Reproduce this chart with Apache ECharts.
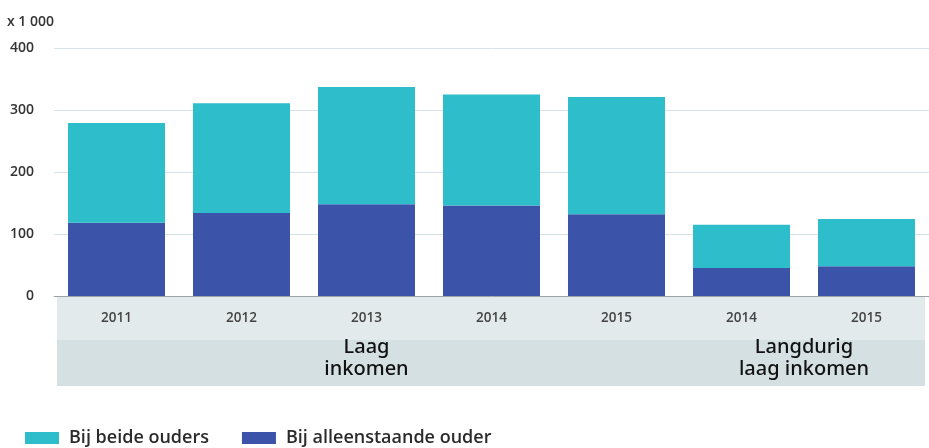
<!DOCTYPE html>
<html>
<head>
<meta charset="utf-8">
<script src="https://cdn.jsdelivr.net/npm/echarts@6/dist/echarts.min.js"></script>
<style>
    html, body {
        margin: 0;
        padding: 0;
        background: white;
    }

    #myChart {
        width: 929px;
        height: 448px;
    }
</style>
</head>
<body>
<div id="myChart"></div>
<script>
    // categorieën en waarden (x 1 000)
    const years = ['2011', '2012', '2013', '2014', '2015', '2014 ', '2015 ']
    const beideOuders = [161, 177, 189, 179, 189, 70, 76]
    const alleenstaand = [118, 134, 148, 146, 132, 45, 48]
    const seriesNames = ['Bij beide ouders', 'Bij alleenstaande ouder']
    const groupLabels = ['Laag\ninkomen', 'Langdurig\nlaag inkomen']
    const yTicks = [0, 100, 200, 300, 400]

    const myChart = echarts.init(document.getElementById('myChart'))

    const option = {
        animation: false,
        textStyle: {
            fontFamily: 'Open Sans'
        },
        grid: {
            left: 54,
            right: -4,
            top: 48,
            bottom: 152
        },
        legend: {
            left: 20,
            top: 424,
            itemWidth: 34,
            itemHeight: 12,
            itemGap: 33,
            icon: 'rect',
            data: seriesNames,
            textStyle: {
                fontSize: 18,
                fontWeight: 600,
                color: '#2b2b2b',
                padding: [0, 0, 0, 5]
            }
        },
        xAxis: {
            type: 'category',
            data: years,
            axisTick: {show: false},
            axisLine: {
                lineStyle: {color: '#9aa3a8', width: 1}
            },
            axisLabel: {
                margin: 15,
                fontSize: 13.5,
                fontWeight: 600,
                color: '#444',
                formatter: function (v) {
                    return v.trim()
                }
            }
        },
        yAxis: {
            type: 'value',
            min: yTicks[0],
            max: yTicks[yTicks.length - 1],
            interval: 100,
            name: 'x 1 000',
            nameLocation: 'end',
            nameGap: 19,
            nameTextStyle: {
                align: 'left',
                padding: [0, 0, 0, -47],
                fontSize: 14,
                fontWeight: 600,
                color: '#333'
            },
            axisLabel: {
                margin: 20,
                fontSize: 14,
                fontWeight: 600,
                color: '#333'
            },
            splitLine: {
                lineStyle: {color: '#d6e4ea', width: 1}
            }
        },
        series: [
            {
                name: seriesNames[1],
                type: 'bar',
                stack: 'totaal',
                barWidth: 97,
                data: alleenstaand,
                itemStyle: {color: '#3b54a9'}
            },
            {
                name: seriesNames[0],
                type: 'bar',
                stack: 'totaal',
                barWidth: 97,
                data: beideOuders,
                itemStyle: {color: '#2ebdcb'}
            }
        ]
    }
    myChart.setOption(option)

    // grijze band onder de as en de groepslabels
    const y0 = myChart.convertToPixel({yAxisIndex: 0}, 0)
    const c2013 = myChart.convertToPixel({xAxisIndex: 0}, 2)
    const c14 = myChart.convertToPixel({xAxisIndex: 0}, 5)
    const c15 = myChart.convertToPixel({xAxisIndex: 0}, 6)

    const groupText = {
        align: 'center',
        fontFamily: 'Noto Sans',
        fontWeight: 500,
        fontSize: 20,
        lineHeight: 22,
        fill: '#111'
    }

    myChart.setOption({
        graphic: [
            {
                type: 'rect',
                z: -1,
                shape: {x: 57, y: y0 + 1, width: 868, height: 43},
                style: {fill: '#e3eaec'}
            },
            {
                type: 'rect',
                z: -1,
                shape: {x: 57, y: y0 + 44, width: 868, height: 46},
                style: {fill: '#d5e0e3'}
            },
            {
                type: 'text',
                z: 10,
                x: c2013,
                y: y0 + 40,
                style: Object.assign({text: groupLabels[0]}, groupText)
            },
            {
                type: 'text',
                z: 10,
                x: (c14 + c15) / 2,
                y: y0 + 40,
                style: Object.assign({text: groupLabels[1]}, groupText)
            }
        ]
    })
</script>
</body>
</html>
